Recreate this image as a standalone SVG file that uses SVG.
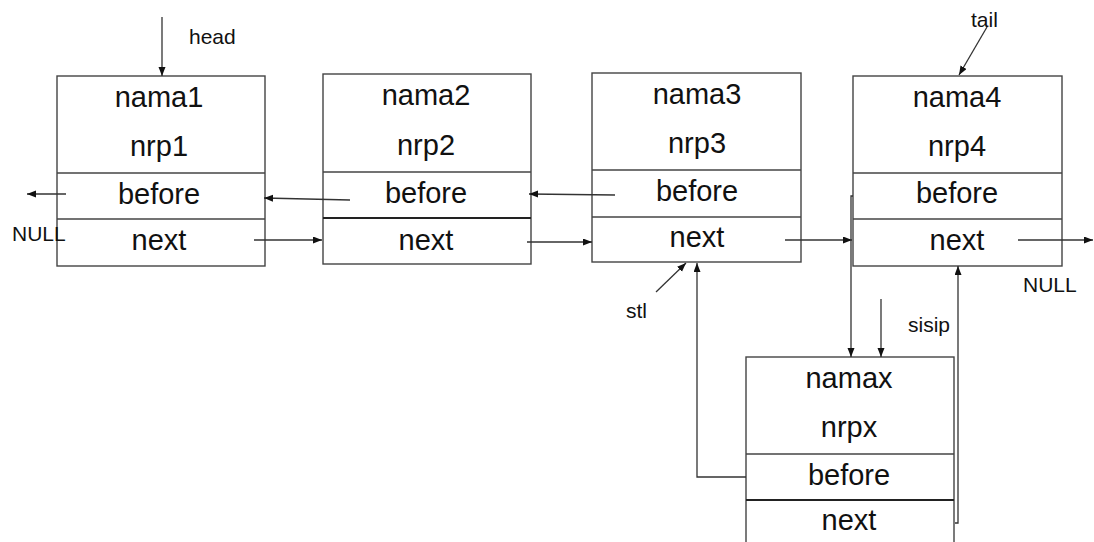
<svg xmlns="http://www.w3.org/2000/svg" width="1094" height="542" viewBox="0 0 1094 542">
<style>
.box{fill:#fff;stroke:#444;stroke-width:1.4}
.div{stroke:#444;stroke-width:1.4}
.thick{stroke:#222;stroke-width:2}
.t{font-family:"Liberation Sans",Arial,sans-serif;font-size:29px;fill:#111;text-anchor:middle}
.s{font-family:"Liberation Sans",Arial,sans-serif;font-size:21px;fill:#111}
.c{fill:none;stroke:#333;stroke-width:1.3}
</style>
<defs>
<marker id="ah" markerUnits="userSpaceOnUse" markerWidth="10" markerHeight="8" refX="9" refY="3.5" orient="auto">
<path d="M0,0 L9,3.5 L0,7 z" fill="#111"/>
</marker>
</defs>
<rect width="1094" height="542" fill="#fff"/>
<g id="node1">
<rect class="box" x="57" y="76" width="208" height="190"/>
<line class="div" x1="57" y1="173" x2="265" y2="173"/>
<line class="div" x1="57" y1="219" x2="265" y2="219"/>
<text class="t" x="159" y="107">nama1</text>
<text class="t" x="159" y="156">nrp1</text>
<text class="t" x="159" y="204">before</text>
<text class="t" x="159" y="250">next</text>
</g>
<g id="node2">
<rect class="box" x="323" y="74" width="208" height="190"/>
<line class="div" x1="323" y1="172" x2="531" y2="172"/>
<line class="thick" x1="323" y1="218" x2="531" y2="218"/>
<text class="t" x="426" y="105">nama2</text>
<text class="t" x="426" y="155">nrp2</text>
<text class="t" x="426" y="203">before</text>
<text class="t" x="426" y="250">next</text>
</g>
<g id="node3">
<rect class="box" x="592" y="73" width="209" height="189"/>
<line class="div" x1="592" y1="170" x2="801" y2="170"/>
<line class="div" x1="592" y1="217" x2="801" y2="217"/>
<text class="t" x="697" y="104">nama3</text>
<text class="t" x="697" y="153">nrp3</text>
<text class="t" x="697" y="201">before</text>
<text class="t" x="697" y="247">next</text>
</g>
<g id="node4">
<rect class="box" x="853" y="76" width="209" height="190"/>
<line class="div" x1="853" y1="173" x2="1062" y2="173"/>
<line class="div" x1="853" y1="219" x2="1062" y2="219"/>
<text class="t" x="957" y="107">nama4</text>
<text class="t" x="957" y="156">nrp4</text>
<text class="t" x="957" y="203">before</text>
<text class="t" x="957" y="250">next</text>
</g>
<g id="nodex">
<rect class="box" x="746" y="357" width="208" height="200"/>
<line class="div" x1="746" y1="454" x2="954" y2="454"/>
<line class="thick" x1="746" y1="500" x2="954" y2="500"/>
<text class="t" x="849" y="388">namax</text>
<text class="t" x="849" y="437">nrpx</text>
<text class="t" x="849" y="485">before</text>
<text class="t" x="849" y="530">next</text>
</g>
<g id="labels">
<text class="s" x="189" y="44">head</text>
<text class="s" x="971" y="27">tail</text>
<text class="s" x="12" y="241">NULL</text>
<text class="s" x="1023" y="292">NULL</text>
<text class="s" x="626" y="318">stl</text>
<text class="s" x="908" y="332">sisip</text>
</g>
<g id="connectors">
<line class="c" x1="162" y1="17" x2="162" y2="76" marker-end="url(#ah)"/>
<line class="c" x1="987" y1="27" x2="959" y2="75" marker-end="url(#ah)"/>
<line class="c" x1="66" y1="194" x2="27" y2="194" marker-end="url(#ah)"/>
<line class="c" x1="350" y1="200" x2="264" y2="198" marker-end="url(#ah)"/>
<line class="c" x1="615" y1="195" x2="529" y2="194" marker-end="url(#ah)"/>
<line class="c" x1="254" y1="240" x2="322" y2="240" marker-end="url(#ah)"/>
<line class="c" x1="527" y1="242" x2="592" y2="242" marker-end="url(#ah)"/>
<line class="c" x1="785" y1="240" x2="852" y2="240" marker-end="url(#ah)"/>
<line class="c" x1="1018" y1="240" x2="1093" y2="240" marker-end="url(#ah)"/>
<line class="c" x1="656" y1="292" x2="686" y2="263" marker-end="url(#ah)"/>
<polyline class="c" points="746,477 697,477 697,263" marker-end="url(#ah)"/>
<polyline class="c" points="853,196 851,196 851,357" marker-end="url(#ah)"/>
<line class="c" x1="881" y1="299" x2="881" y2="357" marker-end="url(#ah)"/>
<polyline class="c" points="955,523 958,523 958,266" marker-end="url(#ah)"/>
</g>
</svg>
